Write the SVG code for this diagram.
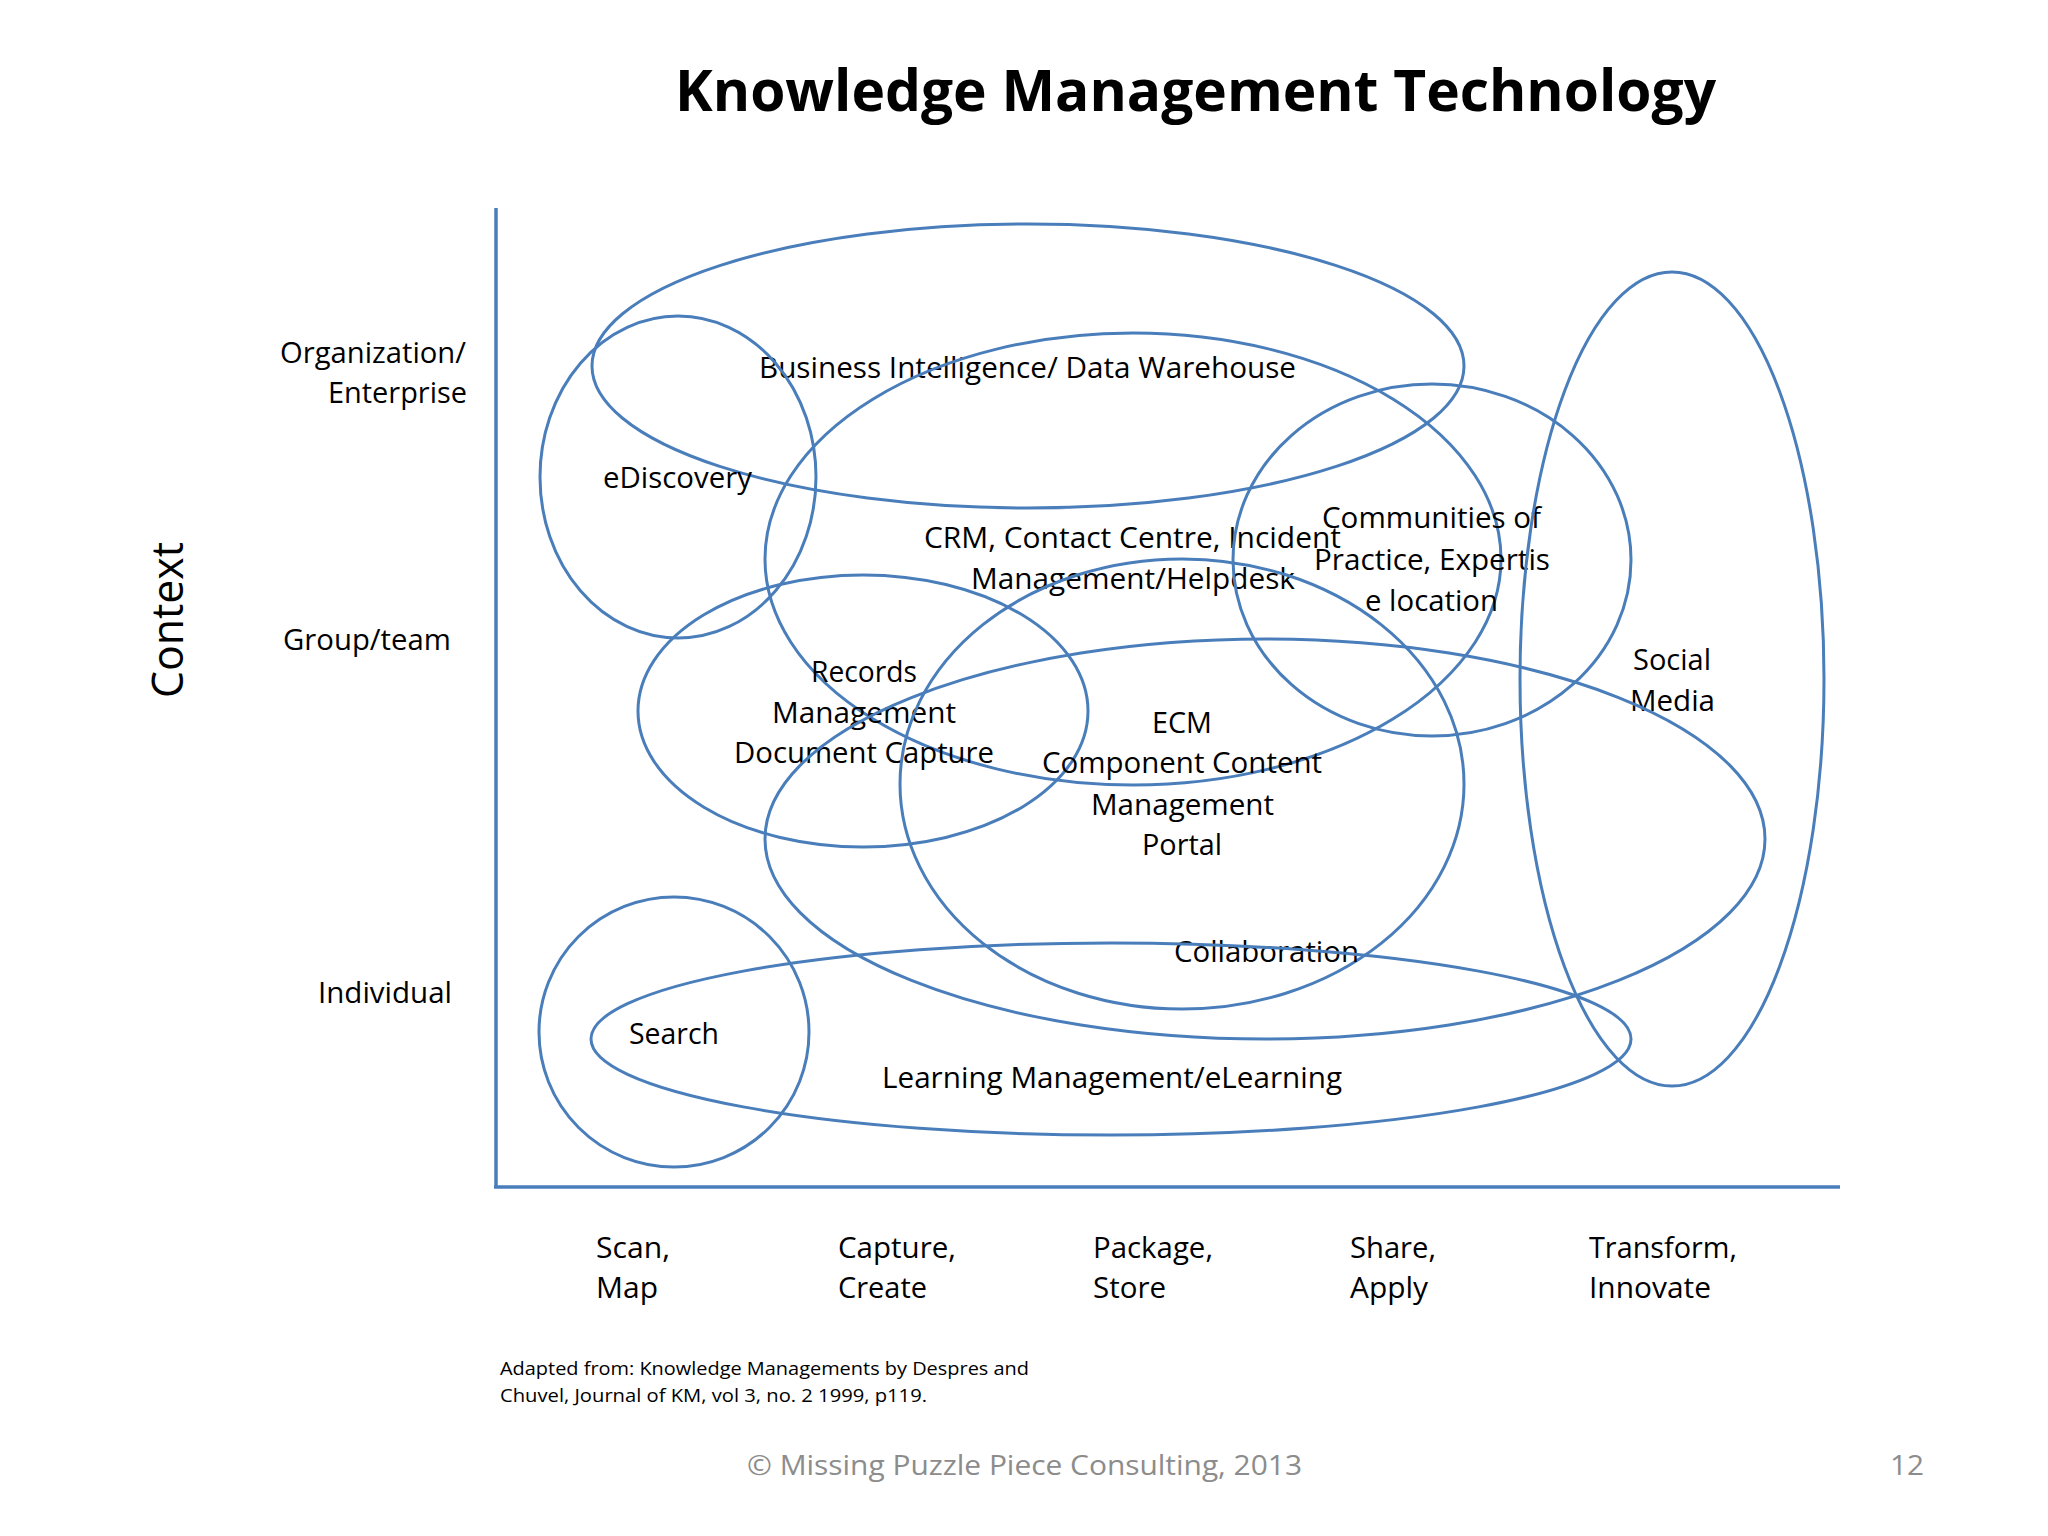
<svg xmlns="http://www.w3.org/2000/svg" width="2048" height="1536" viewBox="0 0 2048 1536">
<style>
.e{fill:none;stroke:#4a7ebb;stroke-width:3}
.ax{fill:none;stroke:#4a7ebb;stroke-width:3.5}
.t{font-family:"Open Sans","Liberation Sans",sans-serif;font-size:29px;fill:#000}
.s{font-family:"Open Sans","Liberation Sans",sans-serif;font-size:19px;fill:#000}
.c{font-family:"Open Sans","Liberation Sans",sans-serif;font-size:27px;fill:#8c8c8c}
.h{font-family:"Open Sans","Liberation Sans",sans-serif;font-size:58px;font-weight:bold;fill:#000}
</style>
<rect width="2048" height="1536" fill="#ffffff"/>
<text class="h" x="675" y="111" textLength="1041" lengthAdjust="spacingAndGlyphs">Knowledge Management Technology</text>
<g id="axes">
<line class="ax" x1="496" y1="208" x2="496" y2="1187"/>
<line class="ax" x1="494" y1="1187" x2="1840" y2="1187"/>
</g>
<g id="y-labels">
<text class="t" x="280" y="363" textLength="186" lengthAdjust="spacingAndGlyphs">Organization/</text>
<text class="t" x="328" y="403" textLength="139" lengthAdjust="spacingAndGlyphs">Enterprise</text>
<text class="t" x="283" y="650" textLength="168" lengthAdjust="spacingAndGlyphs">Group/team</text>
<text class="t" x="318" y="1003" textLength="134" lengthAdjust="spacingAndGlyphs">Individual</text>
<text class="t" style="font-size:44px" text-anchor="middle" transform="translate(183,620) rotate(-90)" x="0" y="0" textLength="156" lengthAdjust="spacingAndGlyphs">Context</text>
</g>
<g id="x-labels">
<text class="t" x="596" y="1258" textLength="74" lengthAdjust="spacingAndGlyphs">Scan,</text>
<text class="t" x="596" y="1298" textLength="62" lengthAdjust="spacingAndGlyphs">Map</text>
<text class="t" x="838" y="1258" textLength="118" lengthAdjust="spacingAndGlyphs">Capture,</text>
<text class="t" x="838" y="1298" textLength="89" lengthAdjust="spacingAndGlyphs">Create</text>
<text class="t" x="1093" y="1258" textLength="120" lengthAdjust="spacingAndGlyphs">Package,</text>
<text class="t" x="1093" y="1298" textLength="73" lengthAdjust="spacingAndGlyphs">Store</text>
<text class="t" x="1350" y="1258" textLength="86" lengthAdjust="spacingAndGlyphs">Share,</text>
<text class="t" x="1350" y="1298" textLength="78" lengthAdjust="spacingAndGlyphs">Apply</text>
<text class="t" x="1589" y="1258" textLength="148" lengthAdjust="spacingAndGlyphs">Transform,</text>
<text class="t" x="1589" y="1298" textLength="122" lengthAdjust="spacingAndGlyphs">Innovate</text>
</g>
<g id="node-bi">
<ellipse class="e" cx="1028" cy="366" rx="436" ry="142"/>
<text class="t" x="759" y="378" textLength="537" lengthAdjust="spacingAndGlyphs">Business Intelligence/ Data Warehouse</text>
</g>
<g id="node-ediscovery">
<ellipse class="e" cx="678" cy="477" rx="138" ry="161"/>
<text class="t" x="603" y="488" textLength="149" lengthAdjust="spacingAndGlyphs">eDiscovery</text>
</g>
<g id="node-crm">
<ellipse class="e" cx="1133" cy="559" rx="368" ry="226"/>
<text class="t" x="924" y="548" textLength="417" lengthAdjust="spacingAndGlyphs">CRM, Contact Centre, Incident</text>
<text class="t" x="971" y="589" textLength="324" lengthAdjust="spacingAndGlyphs">Management/Helpdesk</text>
</g>
<g id="node-communities">
<ellipse class="e" cx="1432" cy="560" rx="199" ry="176"/>
<text class="t" x="1322" y="528" textLength="219" lengthAdjust="spacingAndGlyphs">Communities of</text>
<text class="t" x="1314" y="570" textLength="236" lengthAdjust="spacingAndGlyphs">Practice, Expertis</text>
<text class="t" x="1365" y="611" textLength="133" lengthAdjust="spacingAndGlyphs">e location</text>
</g>
<g id="node-social">
<ellipse class="e" cx="1672" cy="679" rx="152" ry="407"/>
<text class="t" x="1633" y="670" textLength="78" lengthAdjust="spacingAndGlyphs">Social</text>
<text class="t" x="1630" y="711" textLength="85" lengthAdjust="spacingAndGlyphs">Media</text>
</g>
<g id="node-records">
<ellipse class="e" cx="863" cy="711" rx="225" ry="136"/>
<text class="t" x="811" y="682" textLength="106" lengthAdjust="spacingAndGlyphs">Records</text>
<text class="t" x="772" y="723" textLength="184" lengthAdjust="spacingAndGlyphs">Management</text>
<text class="t" x="734" y="763" textLength="260" lengthAdjust="spacingAndGlyphs">Document Capture</text>
</g>
<g id="node-ecm">
<ellipse class="e" cx="1182" cy="784" rx="282" ry="225"/>
<text class="t" x="1152" y="733" textLength="60" lengthAdjust="spacingAndGlyphs">ECM</text>
<text class="t" x="1042" y="773" textLength="280" lengthAdjust="spacingAndGlyphs">Component Content</text>
<text class="t" x="1091" y="815" textLength="183" lengthAdjust="spacingAndGlyphs">Management</text>
<text class="t" x="1142" y="855" textLength="80" lengthAdjust="spacingAndGlyphs">Portal</text>
</g>
<g id="node-collaboration">
<ellipse class="e" cx="1265" cy="839" rx="500" ry="200"/>
<text class="t" x="1174" y="962" textLength="185" lengthAdjust="spacingAndGlyphs">Collaboration</text>
</g>
<g id="node-search">
<ellipse class="e" cx="674" cy="1032" rx="135" ry="135"/>
<text class="t" x="629" y="1044" textLength="90" lengthAdjust="spacingAndGlyphs">Search</text>
</g>
<g id="node-learning">
<ellipse class="e" cx="1111" cy="1039" rx="520" ry="96"/>
<text class="t" x="882" y="1088" textLength="460" lengthAdjust="spacingAndGlyphs">Learning Management/eLearning</text>
</g>
<g id="connectors"></g>
<g id="footer">
<text class="s" x="500" y="1375" textLength="529" lengthAdjust="spacingAndGlyphs">Adapted from: Knowledge Managements by Despres and</text>
<text class="s" x="500" y="1402" textLength="427" lengthAdjust="spacingAndGlyphs">Chuvel, Journal of KM, vol 3, no. 2 1999, p119.</text>
<text class="c" x="747" y="1475" textLength="555" lengthAdjust="spacingAndGlyphs">© Missing Puzzle Piece Consulting, 2013</text>
<text class="c" x="1890" y="1475" textLength="34" lengthAdjust="spacingAndGlyphs">12</text>
</g>
</svg>
